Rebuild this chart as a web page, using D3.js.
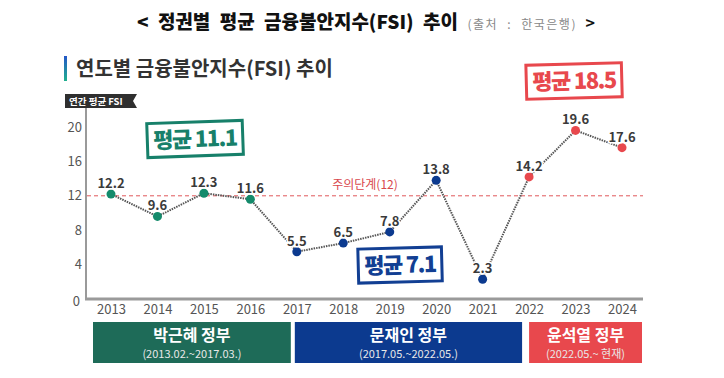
<!DOCTYPE html>
<html>
<head>
<meta charset="utf-8">
<script src="https://cdn.jsdelivr.net/npm/d3@7"></script>
<style>
  body { margin: 0; background: #fff; }
  svg { display: block; font-family: "Noto Sans CJK KR", "Noto Sans", sans-serif; }
</style>
</head>
<body>
<svg id="chart"></svg>
<script>
var W = 724, H = 378;

// data
var years = [2013, 2014, 2015, 2016, 2017, 2018, 2019, 2020, 2021, 2022, 2023, 2024];
var fsi = [12.2, 9.6, 12.3, 11.6, 5.5, 6.5, 7.8, 13.8, 2.3, 14.2, 19.6, 17.6];
var govNames = ["박근혜 정부", "문재인 정부", "윤석열 정부"];
var govTerms = ["(2013.02.~2017.03.)", "(2017.05.~2022.05.)", "(2022.05.~ 현재)"];
var govStart = [2013, 2017, 2022];
var govEnd = [2017, 2022, 2024];
var govAvg = [11.1, 7.1, 18.5];
var yTicks = [0, 4, 8, 12, 16, 20];
var cautionLevel = 12;

var govColor = ["#1e6b58", "#0c3a8f", "#e8484d"];
var dotColor = ["#148a6b", "#0c3a8f", "#e8484d"];
var stampColor = ["#17806a", "#123f93", "#e8484d"];

// 2017 and 2022 belong to the new government in the chart
function govIdx(yr) {
  for (var i = govStart.length - 1; i >= 0; i--) {
    if (yr >= govStart[i]) return i;
  }
  return 0;
}

var svg = d3.select("#chart").attr("width", W).attr("height", H);

// page title
var title = svg.append("text")
  .attr("x", W / 2 + 4).attr("y", 29)
  .attr("text-anchor", "middle")
  .style("word-spacing", "5px");
title.append("tspan").text("< 정권별 평균 금융불안지수(FSI) 추이 ")
  .style("font-size", "19px").style("font-weight", 900).attr("fill", "#111");
title.append("tspan").text("(출처 : 한국은행)")
  .style("font-size", "12px").style("letter-spacing", "1.5px").attr("fill", "#888");
title.append("tspan").text(" >")
  .style("font-size", "16px").style("font-weight", 700).attr("fill", "#111");

// subtitle with gradient bar
var defs = svg.append("defs");
var grad = defs.append("linearGradient").attr("id", "barGrad")
  .attr("x1", 0).attr("y1", 0).attr("x2", 0).attr("y2", 1);
grad.append("stop").attr("offset", "0%").attr("stop-color", "#2456c8");
grad.append("stop").attr("offset", "100%").attr("stop-color", "#1fb08e");
svg.append("rect").attr("x", 64).attr("y", 56).attr("width", 3).attr("height", 25)
  .attr("fill", "url(#barGrad)");
svg.append("text").attr("x", 76).attr("y", 76)
  .style("font-size", "20px").style("font-weight", 700).attr("fill", "#333")
  .text("연도별 금융불안지수(FSI) 추이");

// scales
var x = d3.scaleLinear().domain([2013, 2024]).range([111, 622]);
var y = d3.scaleLinear().domain([0, 20]).range([299, 127]);

// unit tag
svg.append("path")
  .attr("d", "M65,94 H137 L133,101 L137,108 H65 Z")
  .attr("fill", "#2f2f2f");
svg.append("text").attr("x", 69).attr("y", 105)
  .style("font-size", "9.5px").style("font-weight", 700).attr("fill", "#fff")
  .text("연간 평균 FSI");

// axes
var xAxisRight = x(2024) + 21;
svg.append("line").attr("x1", 86).attr("x2", 86).attr("y1", 108).attr("y2", y(0))
  .attr("stroke", "#9a9a9a").attr("stroke-width", 2);
svg.append("line").attr("x1", 85).attr("x2", xAxisRight).attr("y1", y(0)).attr("y2", y(0))
  .attr("stroke", "#9a9a9a").attr("stroke-width", 3);

var yAxis = d3.axisLeft(y).tickValues(yTicks).tickSize(0).tickPadding(0);
var gy = svg.append("g").attr("transform", "translate(82,0)").call(yAxis);
gy.select(".domain").remove();
gy.selectAll("text").style("font-size", "13px").attr("fill", "#555")
  .style("font-family", "'Noto Sans CJK KR', sans-serif");
gy.selectAll(".tick").filter(function (d) { return d === 0; })
  .select("text").attr("dx", "-2").attr("dy", "0.5em");

var xAxis = d3.axisBottom(x).tickValues(years).tickFormat(d3.format("d")).tickSize(0).tickPadding(0);
var gx = svg.append("g").attr("transform", "translate(0,305)").call(xAxis);
gx.select(".domain").remove();
gx.selectAll("text").style("font-size", "13px").attr("fill", "#555")
  .style("font-family", "'Noto Sans CJK KR', sans-serif");

// caution line
svg.append("line").attr("x1", 87).attr("x2", xAxisRight).attr("y1", y(cautionLevel)).attr("y2", y(cautionLevel))
  .attr("stroke", "#e0575b").attr("stroke-width", 1).attr("stroke-dasharray", "4,3");
svg.append("text").attr("x", 365).attr("y", 189).attr("text-anchor", "middle")
  .style("font-size", "12px").attr("fill", "#d9474c")
  .text("주의단계(" + cautionLevel + ")");

// data line
var pts = years.map(function (yr, i) { return { year: yr, v: fsi[i] }; });
var line = d3.line().x(function (d) { return x(d.year); }).y(function (d) { return y(d.v); });
svg.append("path").datum(pts).attr("d", line)
  .attr("fill", "none").attr("stroke", "#555").attr("stroke-width", 2)
  .attr("stroke-dasharray", "1.5,1");

svg.selectAll("circle.pt").data(pts).join("circle").attr("class", "pt")
  .attr("cx", function (d) { return x(d.year); })
  .attr("cy", function (d) { return y(d.v); })
  .attr("r", 4.5)
  .attr("fill", function (d) { return dotColor[govIdx(d.year)]; });

svg.selectAll("text.val").data(pts).join("text").attr("class", "val")
  .attr("x", function (d) { return x(d.year); })
  .attr("y", function (d) { return y(d.v) - 6; })
  .attr("text-anchor", "middle")
  .style("font-size", "13px").style("font-weight", 700)
  .attr("fill", "#3a3a3a")
  .attr("stroke", "#fff").attr("stroke-width", 3).attr("paint-order", "stroke")
  .text(function (d) { return d.v.toFixed(1); });

// average stamps
var stampPos = [[195, 139, -2], [400, 265, -1.5], [574, 81, -1.5]];
govAvg.forEach(function (a, i) {
  var g = svg.append("g")
    .attr("transform", "translate(" + stampPos[i][0] + "," + stampPos[i][1] + ") rotate(" + stampPos[i][2] + ")");
  var t = g.append("text").attr("text-anchor", "middle").attr("y", 8)
    .style("font-size", "22px").style("font-weight", 900)
    .style("letter-spacing", "-1.5px")
    .attr("fill", stampColor[i]);
  t.append("tspan").text("평균");
  t.append("tspan").attr("dx", 4).text(a);
  var bb = t.node().getBBox();
  g.insert("rect", "text")
    .attr("x", bb.x - 6).attr("y", -17).attr("width", bb.width + 11).attr("height", 34)
    .attr("fill", "#fff")
    .attr("stroke", stampColor[i]).attr("stroke-width", 3);
});

// government bars
var leftPad = [18, 2, 0];
var rightPad = [6, 7, -20];
govNames.forEach(function (n, i) {
  var x0 = x(govStart[i]) - leftPad[i];
  var x1 = x(govEnd[i]) - rightPad[i];
  svg.append("rect").attr("x", x0).attr("y", 322).attr("width", x1 - x0).attr("height", 41)
    .attr("fill", govColor[i]);
  svg.append("text").attr("x", (x0 + x1) / 2).attr("y", 341).attr("text-anchor", "middle")
    .style("font-size", "16px").style("font-weight", 700).attr("fill", "#fff").text(n);
  svg.append("text").attr("x", (x0 + x1) / 2).attr("y", 358).attr("text-anchor", "middle")
    .style("font-size", "11px").attr("fill", "#e8e8e8").text(govTerms[i]);
});
</script>
</body>
</html>
